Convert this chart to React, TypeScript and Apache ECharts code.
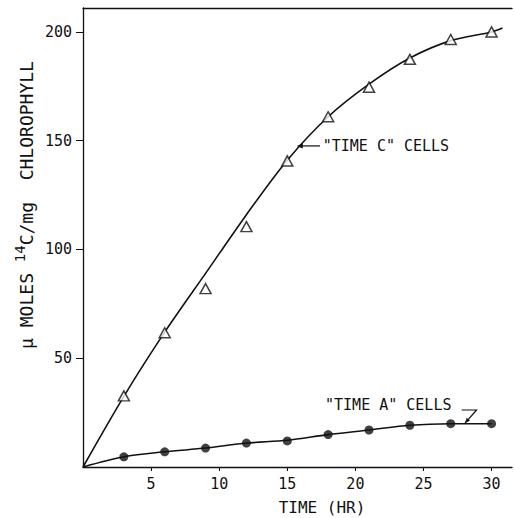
import React, { useEffect, useRef } from "react";
import * as echarts from "echarts";

// Sampled hours
const hours = [3, 6, 9, 12, 15, 18, 21, 24, 27, 30];
// "TIME C" cells (open triangles)
const timeC = [32.7, 61.7, 82, 110.5, 140.7, 161, 174.6, 187.4, 196.5, 200];
// "TIME A" cells (filled circles)
const timeA = [4.7, 7, 8.7, 11, 12, 14.9, 17, 19.2, 19.9, 19.9];
// Fitted curves drawn through the points
const fitCHours = [0, 3, 6, 9, 12, 15, 18, 21, 24, 27, 30, 30.8];
const fitC = [0, 32.5, 62, 89, 116, 141, 161, 176, 188, 196, 200, 201.8];
const fitAHours = [0, 3, 6, 9, 12, 15, 18, 21, 24, 27, 30];
const fitA = [0, 4.7, 7, 8.7, 11, 12.3, 14.9, 17, 19.2, 19.9, 19.9];
// Tick labels
const xTicks = [5, 10, 15, 20, 25, 30];
const yTicks = [50, 100, 150, 200];

const FONT = "DejaVu Sans Mono";
const INK = "#111";

function arrowHead(tip: number[], from: number[], len = 6, half = 2.6) {
  const dx = tip[0] - from[0];
  const dy = tip[1] - from[1];
  const d = Math.hypot(dx, dy) || 1;
  const ux = dx / d, uy = dy / d;
  const bx = tip[0] - ux * len, by = tip[1] - uy * len;
  return [
    [tip[0], tip[1]],
    [bx - uy * half, by + ux * half],
    [bx + uy * half, by - ux * half],
  ];
}

export default function App() {
  const ref = useRef<HTMLDivElement>(null);
  useEffect(() => {
    if (!ref.current) return;
    const chart = echarts.init(ref.current, undefined, { renderer: "svg" });
    chart.setOption({
      animation: false,
      backgroundColor: "#fff",
      grid: { left: 83, right: 3, top: 8, bottom: 51, containLabel: false },
      xAxis: [
        {
          type: "value",
          min: 0,
          max: 31.5,
          interval: 5,
          splitLine: { show: false },
          axisLine: { show: true, onZero: false, lineStyle: { color: INK, width: 1.3 } },
          axisTick: { show: true, length: 4, customValues: xTicks, lineStyle: { color: INK } },
          axisLabel: {
            customValues: xTicks,
            margin: 9,
            color: INK,
            fontFamily: FONT,
            fontSize: 15,
          },
        },
        {
          type: "value",
          position: "top",
          min: 0,
          max: 31.5,
          splitLine: { show: false },
          axisLine: { show: true, onZero: false, lineStyle: { color: INK, width: 1.3 } },
          axisTick: { show: false },
          axisLabel: { show: false },
        },
      ],
      yAxis: {
        type: "value",
        min: 0,
        max: 211,
        interval: 50,
        splitLine: { show: false },
        axisLine: { show: true, onZero: false, lineStyle: { color: INK, width: 1.3 } },
        axisTick: { show: true, length: 7, customValues: yTicks, lineStyle: { color: INK } },
        axisLabel: {
          customValues: yTicks,
          margin: 11,
          color: INK,
          fontFamily: FONT,
          fontSize: 15,
        },
      },
      series: [
        {
          type: "line",
          data: fitCHours.map((h, i) => [h, fitC[i]]),
          smooth: 0.3,
          symbol: "none",
          lineStyle: { color: INK, width: 1.6 },
          z: 2,
        },
        {
          type: "line",
          data: fitAHours.map((h, i) => [h, fitA[i]]),
          smooth: 0.3,
          symbol: "none",
          lineStyle: { color: INK, width: 1.6 },
          z: 2,
        },
        {
          type: "scatter",
          data: hours.map((h, i) => [h, timeC[i]]),
          symbol: "triangle",
          symbolSize: [11, 10],
          itemStyle: { color: "#fff", borderColor: INK, borderWidth: 1.5 },
          z: 3,
        },
        {
          type: "scatter",
          data: hours.map((h, i) => [h, timeA[i]]),
          symbol: "circle",
          symbolSize: 9,
          itemStyle: { color: INK },
          z: 3,
        },
      ],
    });

    const px = (p: number[]) =>
      chart.convertToPixel({ xAxisIndex: 0, yAxisIndex: 0 }, p) as number[];

    // Annotation anchors (data coordinates)
    const cText = px([17.6, 147.6]);
    const cTail = px([17.4, 147.6]);
    const cTip = px([15.7, 147.6]);
    const aText = px([17.77, 28.5]);
    const aBar0 = px([27.8, 26.2]);
    const aBar1 = px([28.9, 26.2]);
    const aTip = px([28.05, 20.2]);
    const origin = px([0, 0]);
    const xTitle = px([17.55, 0]);

    chart.setOption({
      graphic: [
        {
          type: "text",
          x: 26,
          y: 205,
          rotation: Math.PI / 2,
          style: {
            text: "{a|μ MOLES }{s|14}{a|C/mg  CHLOROPHYLL}",
            align: "center",
            verticalAlign: "middle",
            fill: INK,
            rich: {
              a: { fontFamily: FONT, fontSize: 18, lineHeight: 26, fill: INK },
              s: { fontFamily: FONT, fontSize: 14, lineHeight: 14, verticalAlign: "top", fill: INK },
            },
          },
        },
        {
          type: "text",
          x: xTitle[0],
          y: origin[1] + 40,
          style: {
            text: "TIME (HR)",
            align: "center",
            verticalAlign: "middle",
            fontFamily: FONT,
            fontSize: 16,
            fill: INK,
          },
        },
        {
          type: "text",
          x: cText[0],
          y: cText[1],
          style: {
            text: '"TIME C" CELLS',
            align: "left",
            verticalAlign: "middle",
            fontFamily: FONT,
            fontSize: 15,
            fill: INK,
          },
        },
        {
          type: "line",
          shape: { x1: cTail[0], y1: cTail[1], x2: cTip[0] + 4, y2: cTip[1] },
          style: { stroke: INK, lineWidth: 1.2 },
        },
        {
          type: "polygon",
          shape: { points: arrowHead(cTip, cTail) },
          style: { fill: INK },
        },
        {
          type: "text",
          x: aText[0],
          y: aText[1],
          style: {
            text: '"TIME A" CELLS',
            align: "left",
            verticalAlign: "middle",
            fontFamily: FONT,
            fontSize: 15,
            fill: INK,
          },
        },
        {
          type: "polyline",
          shape: { points: [aBar0, aBar1, aTip] },
          style: { stroke: INK, lineWidth: 1.2, fill: null },
        },
        {
          type: "polygon",
          shape: { points: arrowHead(aTip, aBar1, 5, 2.2) },
          style: { fill: INK },
        },
      ],
    });

    return () => chart.dispose();
  }, []);
  return (
    <div
      ref={ref}
      style={{ position: "fixed", left: 0, top: 0, width: 515, height: 518, background: "#fff" }}
    />
  );
}
